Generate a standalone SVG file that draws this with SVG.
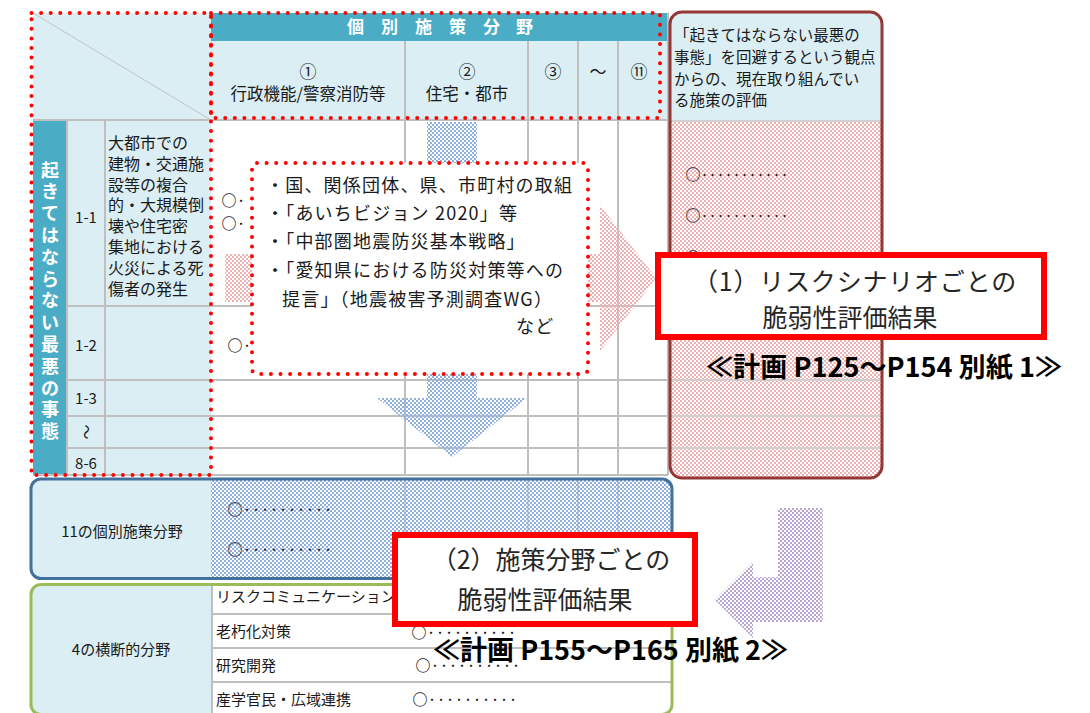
<svg xmlns="http://www.w3.org/2000/svg" width="1090" height="713" viewBox="0 0 1090 713">
<style>
text{font-family:"Noto Sans CJK JP","Noto Sans",sans-serif;fill:#1a1a1a}
.g{stroke:#bfbfbf;stroke-width:2;fill:none}
.gl{stroke:#cfcfcf;stroke-width:2;fill:none}
.dot{fill:none;stroke:#ff0000;stroke-width:4;stroke-dasharray:0 9.6;stroke-linecap:round}
.lb{fill:#daeef3}
.teal{fill:#4bacc6}
.t15{font-size:15px}
.t16{font-size:16px}
.t17{font-size:17px}
.wb{fill:#fff;font-weight:bold}
.c{text-anchor:middle}
.redbox{fill:#fff;stroke:#ff0000;stroke-width:6}
.big{font-size:25px;fill:#262626;text-anchor:middle}
.ref{font-size:27px;font-weight:bold;fill:#000}
.co{font-size:18px;letter-spacing:1.2px}
.o{font-size:15px;font-weight:bold}
.dd{font-size:9px;font-weight:bold}
</style>
<defs>
<pattern id="hBlue" width="4" height="4" patternUnits="userSpaceOnUse"><rect width="2" height="2" fill="#8fb0de"/><rect x="2" y="2" width="2" height="2" fill="#8fb0de"/></pattern>
<pattern id="hPink" width="4" height="4" patternUnits="userSpaceOnUse"><rect width="2" height="2" fill="#eeb2b2"/><rect x="2" y="2" width="2" height="2" fill="#eeb2b2"/></pattern>
<pattern id="hPurple" width="4" height="4" patternUnits="userSpaceOnUse"><rect width="2" height="2" fill="#b7a6d4"/><rect x="2" y="2" width="2" height="2" fill="#b7a6d4"/></pattern>
<clipPath id="cEval"><rect x="670" y="12" width="212" height="466" rx="12"/></clipPath>
<clipPath id="cBlue"><rect x="31" y="479" width="641" height="99.5" rx="10"/></clipPath>
<clipPath id="cGreen"><rect x="31" y="584.5" width="641" height="130" rx="10"/></clipPath>
</defs>
<rect width="1090" height="713" fill="#fff"/>

<g id="header">
<rect class="lb" x="33" y="13" width="178" height="107"/>
<line x1="33" y1="13" x2="211" y2="120" stroke="#c4c4c4" stroke-width="1"/>
<rect class="teal" x="211" y="13" width="457" height="28"/>
<rect class="lb" x="211" y="41" width="457" height="79"/>
<text class="wb t17" x="347 381 415 449 483 516" y="33">個別施策分野</text>
<text class="t17 c" x="308" y="78">①</text>
<text class="c" font-size="16.5" x="308" y="100">行政機能/警察消防等</text>
<text class="t17 c" x="467" y="78">②</text>
<text class="c" font-size="16.5" x="467" y="100">住宅・都市</text>
<text class="t17 c" x="553" y="78">③</text>
<text class="t17 c" x="598" y="78">～</text>
<text class="t17 c" x="639" y="78">⑪</text>
</g>

<g id="rows">
<rect class="teal" x="33" y="120" width="34" height="355"/>
<rect class="lb" x="67" y="120" width="144" height="355"/>
<path class="g" d="M405 41V475M528 41V475M578 41V475M618 41V475M668 13V475M105 120V475M67 120V475M33 120H668M67 306H668M67 380H668M67 416H668M67 448H668M33 475H668"/>
<text class="wb c" font-size="18" x="50 50 50 50 50 50 50 50 50 50 50 50 50" y="176.5 198.3 220.1 241.9 263.7 285.5 307.3 329.1 350.9 372.7 394.5 416.3 438.1">起きてはならない最悪の事態</text>
<text class="t15 c" x="86" y="222.5">1-1</text>
<text class="t15 c" x="86" y="350.5">1-2</text>
<text class="t15 c" x="86" y="403.5">1-3</text>
<text class="t15 c" x="86" y="437.5" transform="rotate(90 86 432)">～</text>
<text class="t15 c" x="86" y="468.5">8-6</text>
<g class="t16">
<text x="108" y="149">大都市での</text>
<text x="108" y="169.8">建物・交通施</text>
<text x="108" y="190.6">設等の複合</text>
<text x="108" y="211.4">的・大規模倒</text>
<text x="108" y="232.2">壊や住宅密</text>
<text x="108" y="253">集地における</text>
<text x="108" y="273.8">火災による死</text>
<text x="108" y="294.6">傷者の発生</text>
</g>
<text x="221.5" y="205.5"><tspan class="o">○</tspan><tspan class="dd" dy="-2">・</tspan></text>
<text x="221.5" y="228.5"><tspan class="o">○</tspan><tspan class="dd" dy="-2">・</tspan></text>
<text x="227.5" y="350.5"><tspan class="o">○</tspan><tspan class="dd" dy="-2">・</tspan></text>
</g>

<g id="evaluation">
<g clip-path="url(#cEval)">
<rect class="lb" x="670" y="12" width="212" height="108"/>
<rect x="670" y="120" width="212" height="360" fill="#fff"/>
<rect x="670" y="120" width="212" height="360" fill="url(#hPink)"/>
<path class="gl" d="M670 121H882M670 306H882M670 380H882M670 416H882M670 448H882"/>
</g>
<rect x="670" y="12" width="212" height="466" rx="12" fill="none" stroke="#953735" stroke-width="3"/>
<g font-size="15.5">
<text x="674" y="41">「起きてはならない最悪の</text>
<text x="674" y="63">事態」を回避するという観点</text>
<text x="674" y="85">からの、現在取り組んでい</text>
<text x="674" y="106">る施策の評価</text>
</g>
<text x="685.5" y="179.5"><tspan class="o">○</tspan><tspan font-size="8" font-weight="bold" dy="-2">・・・・・・・・・・・</tspan></text>
<text x="685.5" y="220.5"><tspan class="o">○</tspan><tspan font-size="8" font-weight="bold" dy="-2">・・・・・・・・・・・</tspan></text>
<text class="o" x="685.5" y="262.5">○</text>
</g>

<g id="connectors">
<polygon points="225,254 600,254 600,205 656,278 600,351 600,302 225,302" fill="url(#hPink)"/>
<polygon points="427,122 477,122 477,398 527,398 452,457 377,398 427,398" fill="url(#hBlue)"/>
<polygon points="778,508 823,508 823,622 753,622 753,638 715,600 753,562 753,577 778,577" fill="url(#hPurple)"/>
</g>

<g id="measures-callout">
<rect x="252" y="163" width="336" height="211" rx="5" fill="#fff"/>
<rect class="dot" x="252" y="163" width="336" height="211" rx="5"/>
<g class="co">
<text x="266" y="191.5">・国、関係団体、県、市町村の取組</text>
<text x="266" y="219.5">・「あいちビジョン 2020」等</text>
<text x="266" y="248">・「中部圏地震防災基本戦略」</text>
<text x="266" y="276.5">・「愛知県における防災対策等への</text>
<text x="282" y="306">提言」（地震被害予測調査WG）</text>
<text x="516" y="332.5">など</text>
</g>
</g>

<g id="highlights">
<rect class="dot" x="31.5" y="13" width="179.5" height="462"/>
<rect class="dot" x="211" y="13" width="449" height="105"/>
</g>

<g id="policy-fields">
<g clip-path="url(#cBlue)">
<rect class="lb" x="31" y="479" width="180" height="100"/>
<rect x="211" y="479" width="461" height="100" fill="#fff"/>
<path class="gl" d="M405 479V578M528 479V578M578 479V578M618 479V578"/>
<rect x="211" y="479" width="461" height="100" fill="url(#hBlue)"/>
</g>
<rect x="31" y="479" width="641" height="99.5" rx="10" fill="none" stroke="#41719c" stroke-width="3"/>
<text class="t15 c" x="122" y="537">11の個別施策分野</text>
<text x="227.5" y="514.5"><tspan class="o">○</tspan><tspan class="dd" dy="-2">・・・・・・・・・・</tspan></text>
<text x="227.5" y="554.5"><tspan class="o">○</tspan><tspan class="dd" dy="-2">・・・・・・・・・・</tspan></text>
</g>

<g id="cross-fields">
<g clip-path="url(#cGreen)">
<rect class="lb" x="31" y="584" width="181" height="131"/>
<rect x="212" y="584" width="460" height="131" fill="#fff"/>
<path class="g" d="M212 585V715M212 614H672M212 648H672M212 682H672"/>
</g>
<rect x="31" y="584.5" width="641" height="130" rx="10" fill="none" stroke="#9bbb59" stroke-width="3"/>
<text class="t15 c" x="121" y="655">4の横断的分野</text>
<g class="t15">
<text x="216" y="602">リスクコミュニケーション</text>
<text x="216" y="637">老朽化対策</text>
<text x="216" y="671">研究開発</text>
<text x="216" y="705">産学官民・広域連携</text>
</g>
<text x="411.5" y="637.5"><tspan class="o">○</tspan><tspan class="dd" dy="-2">・・・・・・・・・・</tspan></text>
<text x="415.5" y="670.5"><tspan class="o">○</tspan><tspan class="dd" dy="-2">・・・・・・・・・・</tspan></text>
<text x="412.5" y="704.5"><tspan class="o">○</tspan><tspan class="dd" dy="-2">・・・・・・・・・・</tspan></text>
</g>

<g id="result-1">
<rect class="redbox" x="658" y="255" width="386" height="82"/>
<text class="big" x="855" y="291" letter-spacing="0.8">（1）リスクシナリオごとの</text>
<text class="big" x="850" y="327">脆弱性評価結果</text>
<text class="ref" x="706" y="377" textLength="356" lengthAdjust="spacingAndGlyphs">≪計画 P125～P154 別紙 1≫</text>
</g>

<g id="result-2">
<rect class="redbox" x="395" y="535" width="300" height="89"/>
<text class="big" x="551" y="569">（2）施策分野ごとの</text>
<text class="big" x="545" y="609">脆弱性評価結果</text>
<text class="ref" x="433" y="660" textLength="355" lengthAdjust="spacingAndGlyphs">≪計画 P155～P165 別紙 2≫</text>
</g>
</svg>
